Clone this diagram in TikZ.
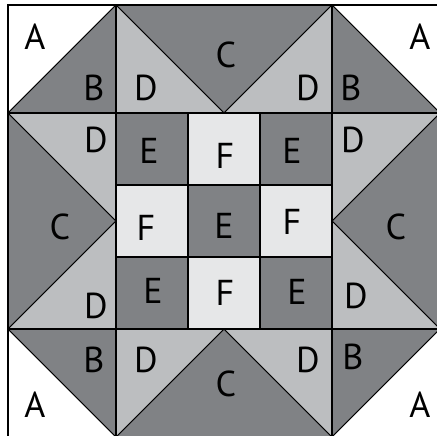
\documentclass[tikz,border=0pt]{standalone}
\usepackage{fontspec}
\setmainfont{PT Sans}
\definecolor{dk}{HTML}{808285}
\definecolor{lt}{HTML}{BCBEC0}
\definecolor{vl}{HTML}{E6E7E8}
\begin{document}
\begin{tikzpicture}[x=1pt,y=-1pt,
  piece/.style={draw=black,line width=0.8pt,line join=miter},
  grid/.style={draw=black,line width=1.4pt},
  lbl/.style={font=\fontsize{36}{36}\selectfont,inner sep=0pt,anchor=center}]
\useasboundingbox (0,0) rectangle (437,436);
\clip (0,0) rectangle (437,436);
\fill[white] (0,0) rectangle (437,436);
% corners
\filldraw[piece,fill=white] (8,5) -- (116,5) -- (8,113) -- cycle;
\filldraw[piece,fill=dk] (116,5) -- (116,113) -- (8,113) -- cycle;
\filldraw[piece,fill=white] (332,5) -- (440,5) -- (440,113) -- cycle;
\filldraw[piece,fill=dk] (332,5) -- (332,113) -- (440,113) -- cycle;
\filldraw[piece,fill=white] (8,329) -- (8,437) -- (116,437) -- cycle;
\filldraw[piece,fill=dk] (8,329) -- (116,329) -- (116,437) -- cycle;
\filldraw[piece,fill=dk] (332,329) -- (440,329) -- (332,437) -- cycle;
\filldraw[piece,fill=white] (440,329) -- (440,437) -- (332,437) -- cycle;
% top band
\filldraw[piece,fill=dk] (116,5) -- (332,5) -- (224,113) -- cycle;
\filldraw[piece,fill=lt] (116,5) -- (116,113) -- (224,113) -- cycle;
\filldraw[piece,fill=lt] (332,5) -- (332,113) -- (224,113) -- cycle;
% bottom band
\filldraw[piece,fill=dk] (116,437) -- (332,437) -- (224,329) -- cycle;
\filldraw[piece,fill=lt] (116,329) -- (116,437) -- (224,329) -- cycle;
\filldraw[piece,fill=lt] (332,329) -- (332,437) -- (224,329) -- cycle;
% left band
\filldraw[piece,fill=dk] (8,113) -- (8,329) -- (116,221) -- cycle;
\filldraw[piece,fill=lt] (8,113) -- (116,113) -- (116,221) -- cycle;
\filldraw[piece,fill=lt] (8,329) -- (116,329) -- (116,221) -- cycle;
% right band
\filldraw[piece,fill=dk] (440,113) -- (440,329) -- (332,221) -- cycle;
\filldraw[piece,fill=lt] (440,113) -- (332,113) -- (332,221) -- cycle;
\filldraw[piece,fill=lt] (440,329) -- (332,329) -- (332,221) -- cycle;
% center nine-patch
\filldraw[piece,fill=dk] (116,113) rectangle (188,185);
\filldraw[piece,fill=vl] (188,113) rectangle (260,185);
\filldraw[piece,fill=dk] (260,113) rectangle (332,185);
\filldraw[piece,fill=vl] (116,185) rectangle (188,257);
\filldraw[piece,fill=dk] (188,185) rectangle (260,257);
\filldraw[piece,fill=vl] (260,185) rectangle (332,257);
\filldraw[piece,fill=dk] (116,257) rectangle (188,329);
\filldraw[piece,fill=vl] (188,257) rectangle (260,329);
\filldraw[piece,fill=dk] (260,257) rectangle (332,329);
% seams
\draw[grid] (8,5) rectangle (440,437);
\draw[grid] (116,5) -- (116,437) (332,5) -- (332,437);
\draw[grid] (8,113) -- (440,113) (8,329) -- (440,329);
\draw[grid] (188,113) -- (188,329) (260,113) -- (260,329);
\draw[grid] (116,185) -- (332,185) (116,257) -- (332,257);
% labels
\node[lbl] (a1) at (35,37) {A};
\node[lbl] (a2) at (420,37) {A};
\node[lbl] (a3) at (35,405) {A};
\node[lbl] (a4) at (420,405) {A};
\node[lbl] (b1) at (94,88) {B};
\node[lbl] (b2) at (351,88) {B};
\node[lbl] (b3) at (94,360) {B};
\node[lbl] (b4) at (353,357) {B};
\node[lbl] (c1) at (226,55) {C};
\node[lbl] (c2) at (60,227) {C};
\node[lbl] (c3) at (396,227) {C};
\node[lbl] (c4) at (226,384) {C};
\node[lbl] (d1) at (146,88) {D};
\node[lbl] (d2) at (308,88) {D};
\node[lbl] (d3) at (96,140) {D};
\node[lbl] (d4) at (353,140) {D};
\node[lbl] (d5) at (96,306) {D};
\node[lbl] (d6) at (356,296) {D};
\node[lbl] (d7) at (146,360) {D};
\node[lbl] (d8) at (308,360) {D};
\node[lbl] (e1) at (149,151) {E};
\node[lbl] (e2) at (292,151) {E};
\node[lbl] (e3) at (224,226) {E};
\node[lbl] (e4) at (153,291) {E};
\node[lbl] (e5) at (297,292) {E};
\node[lbl] (f1) at (225,156) {F};
\node[lbl] (f2) at (146,228) {F};
\node[lbl] (f3) at (292,222) {F};
\node[lbl] (f4) at (225,293) {F};
\end{tikzpicture}
\end{document}
